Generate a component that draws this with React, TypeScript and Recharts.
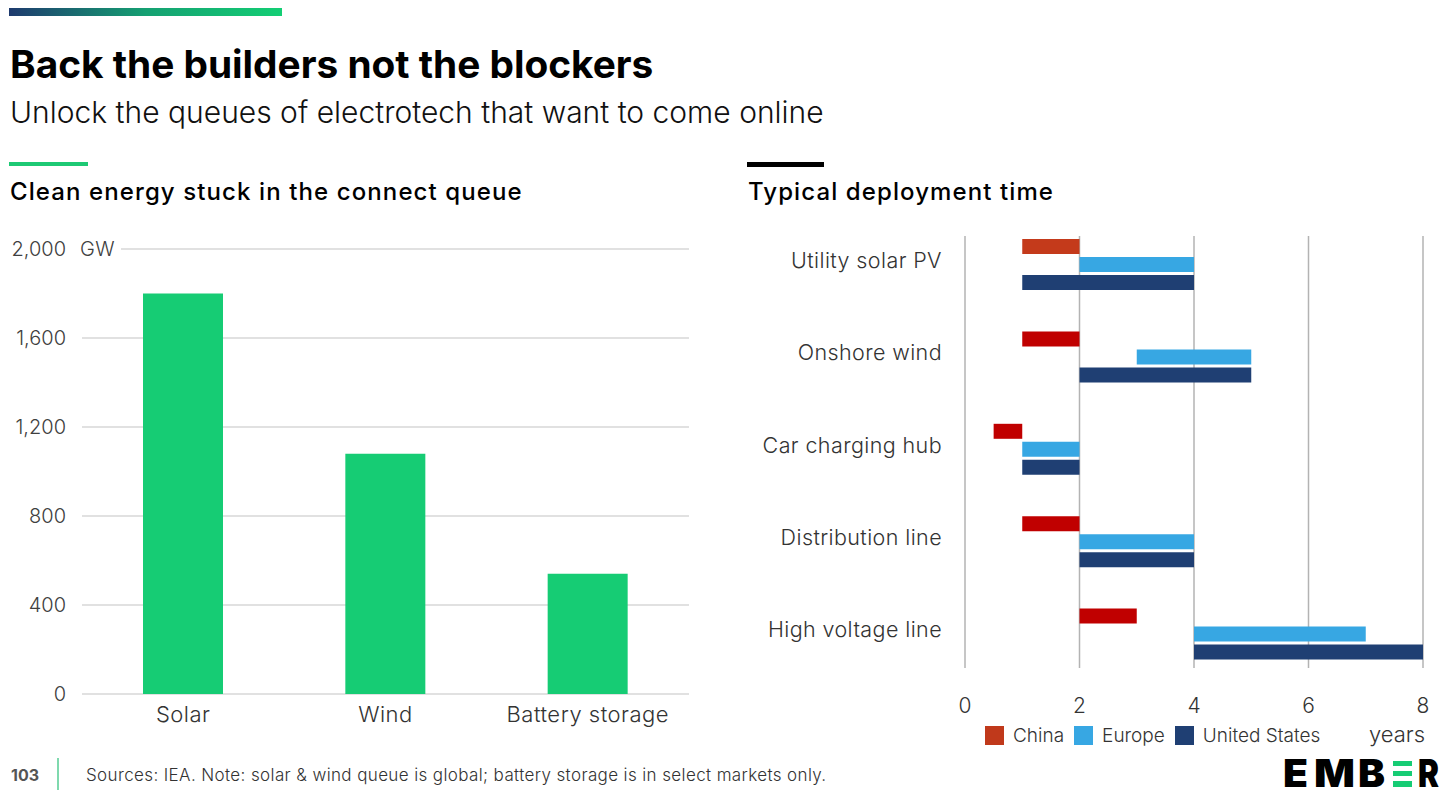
import React from "react";
import { BarChart, Bar, XAxis, YAxis, CartesianGrid, Cell } from "recharts";

const FONT = "Inter, 'Noto Sans', sans-serif";

// Left chart: clean energy in the connection queue (GW)
const queueCategories = ["Solar", "Wind", "Battery storage"];
const queueGW = [1800, 1080, 540];
const queueTicks = [0, 400, 800, 1200, 1600, 2000];

// Right chart: typical deployment time (years), start and end of each bar
const techCategories = [
  "Utility solar PV",
  "Onshore wind",
  "Car charging hub",
  "Distribution line",
  "High voltage line",
];
const chinaStart = [1, 1, 0.5, 1, 2];
const chinaEnd = [2, 2, 1, 2, 3];
const europeStart = [2, 3, 1, 2, 4];
const europeEnd = [4, 5, 2, 4, 7];
const usStart = [1, 2, 1, 2, 4];
const usEnd = [4, 5, 2, 4, 8];
const yearTicks = [0, 2, 4, 6, 8];

const regions = [
  { key: "china", name: "China", color: "#C00000", legend: "#C0391B" },
  { key: "europe", name: "Europe", color: "#37A7E3", legend: "#37A7E3" },
  { key: "us", name: "United States", color: "#1F3F73", legend: "#1F3F73" },
];

const queueData = queueCategories.map((name, i) => ({ name, gw: queueGW[i] }));

const timeData = techCategories.map((name, i) => ({
  name,
  chinaBase: chinaStart[i],
  china: chinaEnd[i] - chinaStart[i],
  europeBase: europeStart[i],
  europe: europeEnd[i] - europeStart[i],
  usBase: usStart[i],
  us: usEnd[i] - usStart[i],
}));

function GWTick({ x, y, payload }: any) {
  const v = Number(payload.value);
  return (
    <g>
      {v === 2000 && (
        <>
          <rect x={x + 3} y={y - 4} width={52} height={8} fill="#fff" />
          <text x={x + 14} y={y} dy="0.35em" fontSize={20} fill="#404040" fontFamily={FONT} fontWeight={300} letterSpacing={0.5}>
            GW
          </text>
        </>
      )}
      <text x={x} y={y} dy="0.35em" textAnchor="end" fontSize={20} fill="#404040" fontFamily={FONT} fontWeight={300}>
        {v.toLocaleString("en-US")}
      </text>
    </g>
  );
}

function TechTick({ x, y, payload }: any) {
  return (
    <text x={x} y={y - 4} dy="0.35em" textAnchor="end" fontSize={21.5} fill="#333" fontFamily={FONT} fontWeight={300} letterSpacing={0.4}>
      {payload.value}
    </text>
  );
}

function QueueChart() {
  return (
    <BarChart
      width={720}
      height={520}
      data={queueData}
      margin={{ top: 19, right: 31, left: 0, bottom: 16 }}
      barSize={80}
    >
      <CartesianGrid vertical={false} stroke="#C4C4C4" strokeWidth={1.2} />
      <XAxis
        dataKey="name"
        axisLine={false}
        tickLine={false}
        height={40}
        tickMargin={6}
        tick={{ fontSize: 22, fill: "#333", fontFamily: FONT, fontWeight: 300, letterSpacing: 0.5 }}
      />
      <YAxis
        width={82}
        domain={[0, 2000]}
        ticks={queueTicks}
        axisLine={false}
        tickLine={false}
        tickMargin={10}
        tick={<GWTick />}
      />
      <Bar dataKey="gw" fill="#16CC74" isAnimationActive={false} />
    </BarChart>
  );
}

function TimeChart() {
  return (
    <BarChart
      width={756}
      height={560}
      data={timeData}
      layout="vertical"
      margin={{ top: 18, right: 33, left: 0, bottom: 50 }}
      barSize={15}
      barGap={3}
    >
      <CartesianGrid horizontal={false} stroke="#B3B3B3" strokeWidth={1.5} y={36} height={432} />
      <XAxis
        type="number"
        domain={[0, 8]}
        ticks={yearTicks}
        axisLine={false}
        tickLine={false}
        tickMargin={12}
        tick={{ fontSize: 21, fill: "#333", fontFamily: FONT, fontWeight: 300 }}
      />
      <YAxis
        type="category"
        dataKey="name"
        width={265}
        axisLine={false}
        tickLine={false}
        tickMargin={17}
        tick={<TechTick />}
      />
      {regions.map((r) => [
        <Bar key={r.key + "Base"} dataKey={r.key + "Base"} stackId={r.key} fill="transparent" isAnimationActive={false} />,
        <Bar key={r.key} dataKey={r.key} name={r.name} stackId={r.key} fill={r.color} isAnimationActive={false}>
          {timeData.map((_, i) => (
            <Cell key={i} fill={r.key === "china" && i === 0 ? "#C43A1B" : r.color} />
          ))}
        </Bar>,
      ])}
    </BarChart>
  );
}

export default function App() {
  return (
    <div
      style={{
        position: "fixed",
        left: 0,
        top: 0,
        width: 1456,
        height: 792,
        background: "#fff",
        overflow: "hidden",
        fontFamily: FONT,
        color: "#000",
      }}
    >
      <div
        style={{
          position: "absolute",
          left: 9,
          top: 8,
          width: 273,
          height: 8,
          background: "linear-gradient(90deg, #1E3A6E 0%, #15A072 50%, #13CE74 100%)",
        }}
      />
      <div style={{ position: "absolute", left: 10, top: 43, fontSize: 38.8, lineHeight: "42px", fontWeight: 700, whiteSpace: "nowrap" }}>
        Back the builders not the blockers
      </div>
      <div style={{ position: "absolute", left: 10, top: 95, fontSize: 30, lineHeight: "34px", fontWeight: 300, whiteSpace: "nowrap", color: "#111" }}>
        Unlock the queues of electrotech that want to come online
      </div>

      <div style={{ position: "absolute", left: 9, top: 162, width: 79, height: 4, background: "#1DC974" }} />
      <div style={{ position: "absolute", left: 747, top: 162, width: 77, height: 5, background: "#000" }} />
      <div style={{ position: "absolute", left: 10, top: 178, fontSize: 24, lineHeight: "28px", fontWeight: 500, letterSpacing: 1.1, whiteSpace: "nowrap" }}>
        Clean energy stuck in the connect queue
      </div>
      <div style={{ position: "absolute", left: 748, top: 178, fontSize: 24, lineHeight: "28px", fontWeight: 500, letterSpacing: 1.1, whiteSpace: "nowrap" }}>
        Typical deployment time
      </div>

      <div style={{ position: "absolute", left: 0, top: 230 }}>
        <QueueChart />
      </div>
      <div style={{ position: "absolute", left: 700, top: 200 }}>
        <TimeChart />
      </div>

      <div style={{ position: "absolute", left: 985, top: 723, height: 24, display: "flex", alignItems: "center", fontSize: 19, fontWeight: 300, color: "#333", whiteSpace: "nowrap" }}>
        {regions.map((r) => (
          <div key={r.key} style={{ display: "flex", alignItems: "center", marginRight: 10 }}>
            <span style={{ display: "inline-block", width: 19, height: 19, background: r.legend, marginRight: 9 }} />
            <span>{r.name}</span>
          </div>
        ))}
      </div>
      <div style={{ position: "absolute", left: 1369, top: 721, fontSize: 22, lineHeight: "26px", fontWeight: 300, color: "#333" }}>years</div>

      <div style={{ position: "absolute", left: 11, top: 765, fontSize: 16, lineHeight: "20px", fontWeight: 700, color: "#555" }}>103</div>
      <div style={{ position: "absolute", left: 57, top: 758, width: 2, height: 32, background: "#7FD9AE" }} />
      <div style={{ position: "absolute", left: 86, top: 765, fontSize: 17, lineHeight: "20px", fontWeight: 300, letterSpacing: 0.38, color: "#333", whiteSpace: "nowrap" }}>
        Sources: IEA. Note: solar &amp; wind queue is global; battery storage is in select markets only.
      </div>

      <svg style={{ position: "absolute", left: 1270, top: 736 }} width={186} height={56}>
        <text x={13} y={51} fontSize={38} fontWeight={900} fontFamily={FONT} fill="#000" textLength={25} lengthAdjust="spacingAndGlyphs">E</text>
        <text x={44} y={51} fontSize={38} fontWeight={900} fontFamily={FONT} fill="#000" textLength={41} lengthAdjust="spacingAndGlyphs">M</text>
        <text x={88} y={51} fontSize={38} fontWeight={900} fontFamily={FONT} fill="#000" textLength={27} lengthAdjust="spacingAndGlyphs">B</text>
        <rect x={123} y={25} width={19} height={5} fill="#16CC74" />
        <rect x={123} y={35} width={19} height={5} fill="#16CC74" />
        <rect x={123} y={45} width={19} height={6} fill="#16CC74" />
        <text x={148} y={51} fontSize={38} fontWeight={900} fontFamily={FONT} fill="#000" textLength={21} lengthAdjust="spacingAndGlyphs">R</text>
      </svg>
    </div>
  );
}
